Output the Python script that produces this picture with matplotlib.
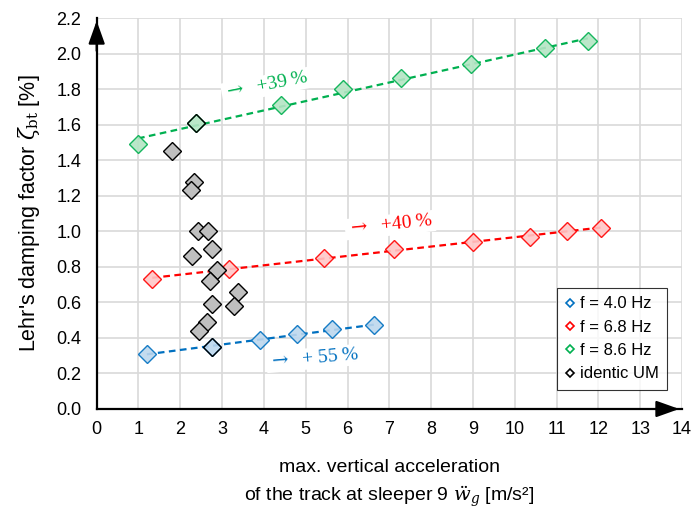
import numpy as np
import matplotlib
matplotlib.use("Agg")
import matplotlib.pyplot as plt

plt.rcParams["font.family"] = ["Liberation Sans", "DejaVu Sans"]
plt.rcParams["mathtext.fontset"] = "dejavuserif"

# Daten
x_40 = [1.2, 2.77, 3.9, 4.78, 5.63, 6.64]
y_40 = [0.31, 0.35, 0.39, 0.42, 0.45, 0.47]

x_68 = [1.33, 3.16, 5.43, 7.12, 9.0, 10.36, 11.25, 12.07]
y_68 = [0.73, 0.79, 0.85, 0.90, 0.94, 0.97, 1.00, 1.02]

x_86 = [0.99, 2.37, 4.41, 5.9, 7.29, 8.95, 10.72, 11.75]
y_86 = [1.49, 1.61, 1.71, 1.80, 1.86, 1.94, 2.03, 2.07]

x_um = [1.81, 2.33, 2.25, 2.43, 2.67, 2.77, 2.27, 2.89, 2.70, 3.39, 2.77, 3.28, 2.65, 2.45]
y_um = [1.45, 1.28, 1.23, 1.00, 1.00, 0.90, 0.86, 0.78, 0.72, 0.66, 0.59, 0.58, 0.49, 0.44]

# identische UM, die auf den Frequenzreihen liegen
x_um_hl = [2.37, 2.77]
y_um_hl = [1.61, 0.35]

series = [
    ("f = 4.0 Hz", x_40, y_40, "#0070C0", "#BDD7EE"),
    ("f = 6.8 Hz", x_68, y_68, "#FF0000", "#FFC7C7"),
    ("f = 8.6 Hz", x_86, y_86, "#00B050", "#B4E5C4"),
]
labels_pct = [r"$\rightarrow$  + 55 %", r"$\rightarrow$  +40 %", r"$\rightarrow$  +39 %"]
label_pos = [(5.2, 0.285, 5), (7.02, 1.035, 6), (4.06, 1.82, 11)]

fig = plt.figure(figsize=(6.92, 5.09), dpi=100)
ax = fig.add_axes([0.1397, 0.1965, 0.8458, 0.768])

ms = 9
for (name, xs, ys, ec, fc) in series:
    k, d = np.polyfit(xs, ys, 1)
    xl = np.array([min(xs), max(xs)])
    ax.plot(xl, k * xl + d, "--", color=ec, lw=1.6, dashes=(3, 2), zorder=2)
    ax.plot(xs, ys, "D", ms=ms, mec=ec, mfc=fc, mew=1.0, alpha=0.9, zorder=3)

ax.plot(x_um, y_um, "D", ms=ms, mec="black", mfc="#BFBFBF", mew=1.0, zorder=4)
ax.plot(x_um_hl, y_um_hl, "D", ms=ms, mec="black", mfc="none", mew=1.0, zorder=5)

# Legende mit kleinen Markern
handles = []
for (name, xs, ys, ec, fc) in series:
    h, = ax.plot([], [], "D", ms=4.5, mec=ec, mfc="white", mew=1.2, label=name)
    handles.append(h)
h, = ax.plot([], [], "D", ms=4.5, mec="black", mfc="white", mew=1.2, label="identic UM")
handles.append(h)
leg = ax.legend(handles=handles, loc="lower right", bbox_to_anchor=(0.974, 0.049),
                fontsize=12, frameon=True, fancybox=False, handlelength=0.6,
                handletextpad=0.25, borderpad=0.5, labelspacing=0.5, borderaxespad=0)
leg.get_frame().set_edgecolor("black")
leg.get_frame().set_linewidth(0.8)

# Prozent-Beschriftungen
for (name, xs, ys, ec, fc), txt, (tx, ty, rot) in zip(series, labels_pct, label_pos):
    ax.text(tx, ty, txt, color=ec, fontsize=14, family=["Liberation Serif", "DejaVu Serif"],
            rotation=rot, ha="center", va="center", rotation_mode="anchor", zorder=6,
            bbox=dict(facecolor="white", edgecolor="none", pad=1.5))

ax.set_xlim(0, 14)
ax.set_ylim(0, 2.2)
ax.set_xticks(range(0, 15))
ax.set_yticks(np.arange(0, 2.21, 0.2))
ax.set_yticklabels([f"{v:.1f}" for v in np.arange(0, 2.21, 0.2)])
ax.tick_params(length=0, labelsize=13)
ax.tick_params(axis="y", pad=11)
ax.tick_params(axis="x", pad=9)
ax.grid(color="#D9D9D9", lw=1.2)
ax.set_axisbelow(True)
for s in ["top", "right"]:
    ax.spines[s].set_visible(False)
for s in ["left", "bottom"]:
    ax.spines[s].set_linewidth(1.6)

# Pfeile an den Achsen
ax.annotate("", xy=(14, 0), xytext=(13.3, 0),
            arrowprops=dict(arrowstyle="-|>,head_length=1.4,head_width=0.5", color="black", lw=1.6),
            annotation_clip=False, zorder=7)
ax.annotate("", xy=(0, 2.2), xytext=(0, 2.0),
            arrowprops=dict(arrowstyle="-|>,head_length=1.4,head_width=0.5", color="black", lw=1.6),
            annotation_clip=False, zorder=7)

ax.set_ylabel(r"Lehr's damping factor $\zeta_{\mathrm{bt}}$ [%]", fontsize=15.5, labelpad=10)
ax.set_xlabel("max. vertical acceleration\n" + r"of the track at sleeper 9 $\ddot{w}_g$ [m/s²]",
              fontsize=14, labelpad=15, linespacing=1.5)

fig.savefig("out.png", dpi=100)
